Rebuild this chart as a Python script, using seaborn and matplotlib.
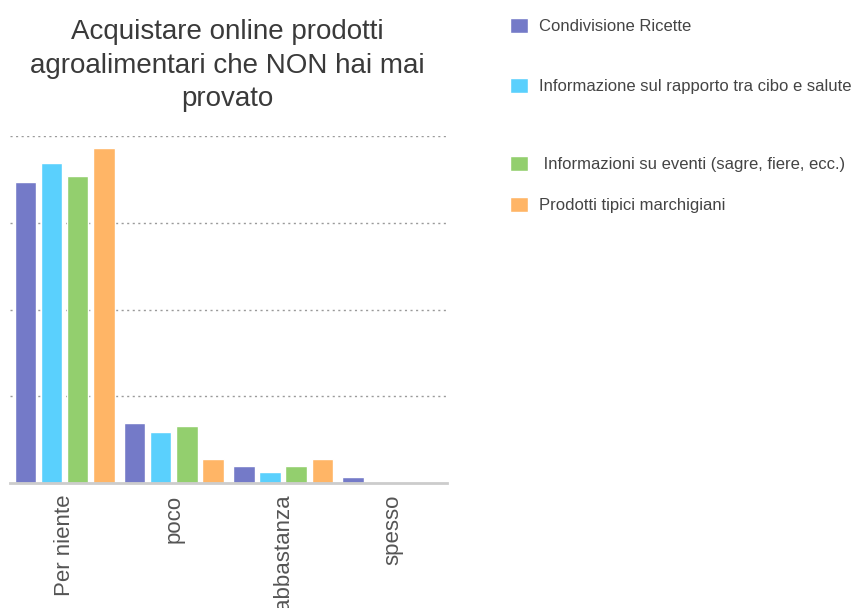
import matplotlib
matplotlib.use("Agg")
import matplotlib.pyplot as plt
import seaborn as sns
import pandas as pd

categories = ["Per niente", "poco", "abbastanza", "spesso"]
series_names = [
    "Condivisione Ricette",
    "Informazione sul rapporto tra cibo e salute",
    " Informazioni su eventi (sagre, fiere, ecc.)",
    "Prodotti tipici marchigiani",
]
condivisione = [69.3, 13.8, 4.1, 1.45]
informazione_salute = [73.7, 11.8, 2.7, 0.0]
informazioni_eventi = [70.8, 13.2, 4.1, 0.0]
prodotti_tipici = [77.2, 5.5, 5.5, 0.0]
colors = ["#747AC8", "#5AD0FD", "#93CF6E", "#FFB566"]

values = [condivisione, informazione_salute, informazioni_eventi, prodotti_tipici]
rows = []
for name, vals in zip(series_names, values):
    for cat, v in zip(categories, vals):
        rows.append({"cat": cat, "serie": name, "val": v})
df = pd.DataFrame(rows)

sns.set_style("white")
plt.rcParams["font.family"] = ["Liberation Sans", "DejaVu Sans"]

fig = plt.figure(figsize=(8.53, 6.08), dpi=100)
ax = fig.add_axes([0.0117, 0.2051, 0.5123, 0.5712])

sns.barplot(data=df, x="cat", y="val", hue="serie", hue_order=series_names,
            order=categories, palette=colors, width=0.96, gap=0.18,
            saturation=1, ax=ax, legend=True)

handles, labels = ax.get_legend_handles_labels()
ax.get_legend().remove()

ax.set_ylim(0, 80)
ax.set_xlim(-0.5, 3.5)
ax.set_yticks([20, 40, 60, 80])
ax.set_yticklabels([])
ax.tick_params(axis="y", length=0)
ax.yaxis.grid(True, linestyle=(0, (1.5, 2.5)), color="#9a9a9a", linewidth=1)
ax.set_axisbelow(True)
for s in ["top", "right", "left"]:
    ax.spines[s].set_visible(False)
ax.spines["bottom"].set_color("#cccccc")
ax.spines["bottom"].set_linewidth(2)
ax.set_xlabel("")
ax.set_ylabel("")
ax.tick_params(axis="x", length=0, pad=8, labelsize=16, labelcolor="#555555")
for lbl in ax.get_xticklabels():
    lbl.set_rotation(90)
    lbl.set_va("top")

fig.text(0.267, 0.968, "Acquistare online prodotti\nagroalimentari che NON hai mai\nprovato",
         ha="center", va="top", fontsize=20, color="#3a3a3a", linespacing=1.36)

ys = [0.957, 0.859, 0.730, 0.663]
for h, l, y in zip(handles, labels, ys):
    fig.legend([h], [l], loc="center left", bbox_to_anchor=(0.598, y),
               frameon=False, fontsize=12, borderpad=0, borderaxespad=0,
               handlelength=1.05, handleheight=1.05, handletextpad=0.7,
               labelcolor="#444444")

fig.savefig("out.png", dpi=100)
